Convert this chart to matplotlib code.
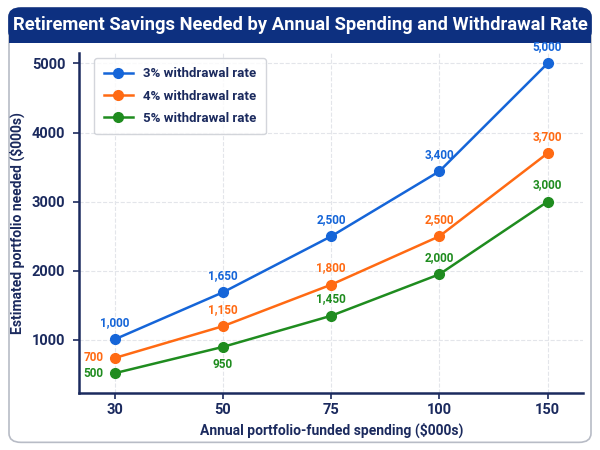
import matplotlib.pyplot as plt
from matplotlib.patches import FancyBboxPatch, Rectangle

# data
spending = ["30", "50", "75", "100", "150"]
rate_names = ["3% withdrawal rate", "4% withdrawal rate", "5% withdrawal rate"]
vals_3 = [1010, 1690, 2500, 3440, 5000]
vals_4 = [740, 1200, 1800, 2500, 3700]
vals_5 = [520, 900, 1350, 1950, 3000]
labels_3 = ["1,000", "1,650", "2,500", "3,400", "5,000"]
labels_4 = ["700", "1,150", "1,800", "2,500", "3,700"]
labels_5 = ["500", "950", "1,450", "2,000", "3,000"]

NAVY = "#1b2a5e"
BANNER = "#0d3080"
colors = ["#1565d8", "#ff6a13", "#1f8c1f"]

plt.rcParams['font.family'] = ['Roboto', 'DejaVu Sans']

fig = plt.figure(figsize=(6, 4.5), dpi=100)

# card background + title banner
card = FancyBboxPatch((0.015, 0.017), 0.97, 0.965, boxstyle="round,pad=0,rounding_size=0.02",
                      transform=fig.transFigure, facecolor="white", edgecolor="#b8bcc6",
                      linewidth=1.2, zorder=-3)
fig.patches.append(card)
banner = FancyBboxPatch((0.015, 0.91), 0.97, 0.072, boxstyle="round,pad=0,rounding_size=0.02",
                        transform=fig.transFigure, facecolor=BANNER, edgecolor=BANNER,
                        linewidth=1.2, zorder=-2)
fig.patches.append(banner)
fig.patches.append(Rectangle((0.015, 0.905), 0.97, 0.02, transform=fig.transFigure,
                             facecolor=BANNER, edgecolor="none", zorder=-2))
fig.text(0.5, 0.945, "Retirement Savings Needed by Annual Spending and Withdrawal Rate",
         ha="center", va="center", color="white", fontsize=13.2, fontweight="bold")

ax = fig.add_axes([0.132, 0.127, 0.84, 0.755])
ax.patch.set_alpha(0)
x = list(range(len(spending)))

series = [vals_3, vals_4, vals_5]
for vals, name, c in zip(series, rate_names, colors):
    ax.plot(x, vals, color=c, linewidth=1.8, marker="o", markersize=7, label=name, zorder=3)


def put_label(i, v, lab, c, where="above"):
    if where == "left":
        ax.annotate(lab, (i, v), xytext=(-8, 0), textcoords="offset points", ha="right", va="center",
                    color=c, fontsize=8.5, fontweight="bold")
    elif where == "below":
        ax.annotate(lab, (i, v), xytext=(0, -8), textcoords="offset points", ha="center", va="top",
                    color=c, fontsize=8.5, fontweight="bold")
    else:
        ax.annotate(lab, (i, v), xytext=(0, 7.5), textcoords="offset points", ha="center", va="bottom",
                    color=c, fontsize=8.5, fontweight="bold")


# value labels
for i, (v, lab) in enumerate(zip(vals_3, labels_3)):
    put_label(i, v, lab, colors[0])
for i, (v, lab) in enumerate(zip(vals_4, labels_4)):
    put_label(i, v, lab, colors[1], "left" if i == 0 else "above")
for i, (v, lab) in enumerate(zip(vals_5, labels_5)):
    put_label(i, v, lab, colors[2], "left" if i == 0 else ("below" if i == 1 else "above"))

ax.set_xlim(-0.33, 4.33)
ax.set_ylim(235, 5150)
ax.set_xticks(x)
ax.set_xticklabels(spending)
ax.set_yticks([1000, 2000, 3000, 4000, 5000])

for s in ["top", "right"]:
    ax.spines[s].set_visible(False)
for s in ["left", "bottom"]:
    ax.spines[s].set_color(NAVY)
    ax.spines[s].set_linewidth(1.8)
ax.tick_params(colors=NAVY, labelsize=10.5, width=1.2, length=4)
ax.tick_params(axis="y", pad=6)
for t in ax.get_xticklabels() + ax.get_yticklabels():
    t.set_fontweight("bold")

ax.grid(True, linestyle="--", color="#e3e5ea", linewidth=0.8)
ax.set_axisbelow(True)

ax.set_xlabel("Annual portfolio-funded spending ($000s)", color=NAVY, fontsize=10, fontweight="bold", labelpad=4)
ax.set_ylabel("Estimated portfolio needed ($000s)", color=NAVY, fontsize=10, fontweight="bold", labelpad=5)

leg = ax.legend(loc="upper left", bbox_to_anchor=(0.03, 0.985), borderaxespad=0, fontsize=9.5,
                frameon=True, borderpad=0.7, labelspacing=0.7, handlelength=2.2)
leg.get_frame().set_edgecolor("#c8cbd2")
leg.get_frame().set_linewidth(1)
for t in leg.get_texts():
    t.set_color(NAVY)
    t.set_fontweight("bold")

fig.savefig("out.png", dpi=100)
